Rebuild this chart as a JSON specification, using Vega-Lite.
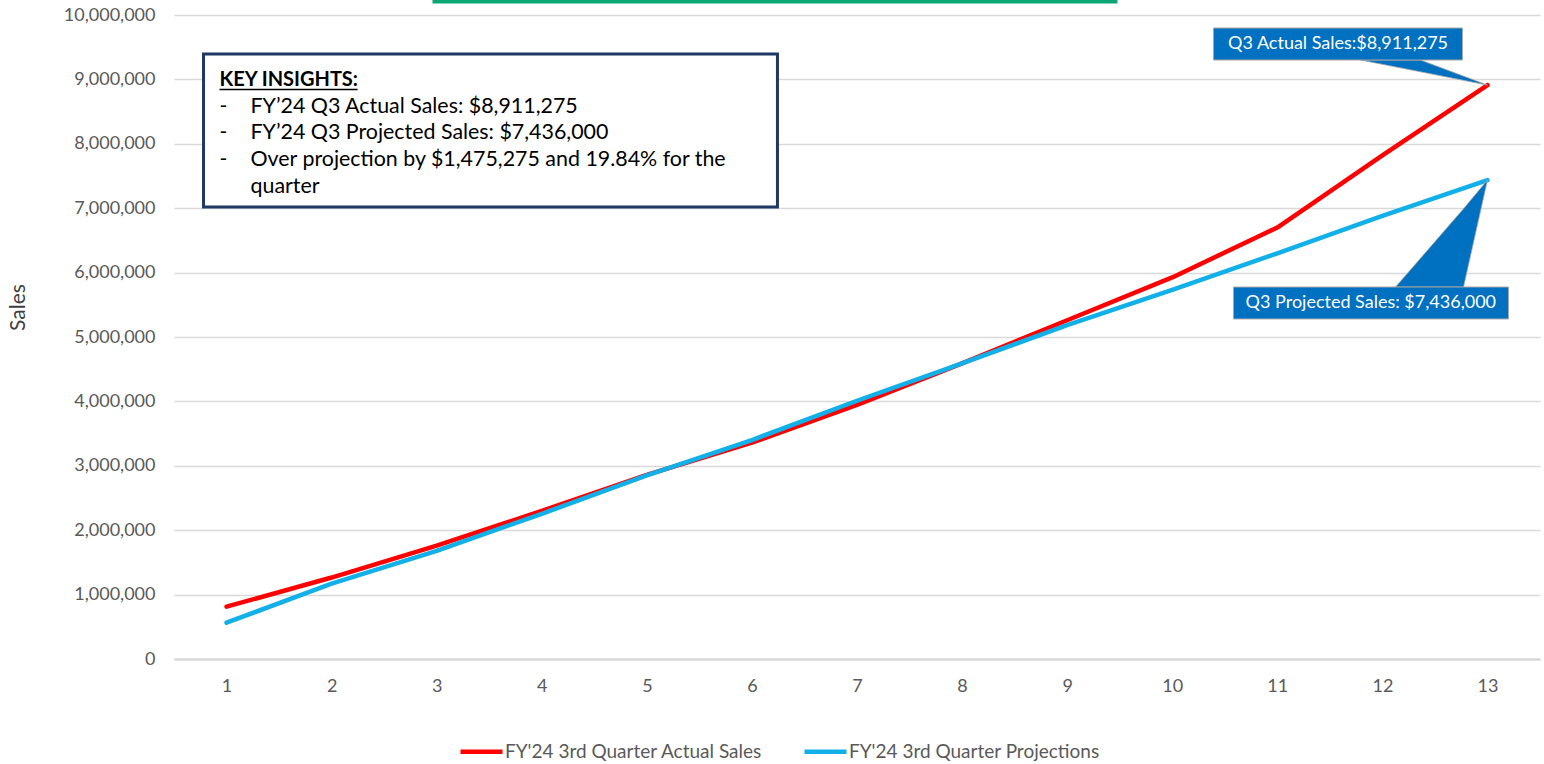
{
  "$schema": "https://vega.github.io/schema/vega-lite/v6.json",
  "autosize": "none",
  "width": 1366,
  "height": 644,
  "padding": {"left": 174, "top": 15, "right": 4, "bottom": 105},
  "background": "white",
  "config": {"font": "Lato", "view": {"stroke": null}},
  "datasets": {
    "sales": [
      {"x": 1, "y": 812000, "series": "FY'24 3rd Quarter Actual Sales"},
      {"x": 2, "y": 1265000, "series": "FY'24 3rd Quarter Actual Sales"},
      {"x": 3, "y": 1760000, "series": "FY'24 3rd Quarter Actual Sales"},
      {"x": 4, "y": 2300000, "series": "FY'24 3rd Quarter Actual Sales"},
      {"x": 5, "y": 2860000, "series": "FY'24 3rd Quarter Actual Sales"},
      {"x": 6, "y": 3360000, "series": "FY'24 3rd Quarter Actual Sales"},
      {"x": 7, "y": 3945000, "series": "FY'24 3rd Quarter Actual Sales"},
      {"x": 8, "y": 4590000, "series": "FY'24 3rd Quarter Actual Sales"},
      {"x": 9, "y": 5260000, "series": "FY'24 3rd Quarter Actual Sales"},
      {"x": 10, "y": 5925000, "series": "FY'24 3rd Quarter Actual Sales"},
      {"x": 11, "y": 6700000, "series": "FY'24 3rd Quarter Actual Sales"},
      {"x": 12, "y": 7820000, "series": "FY'24 3rd Quarter Actual Sales"},
      {"x": 13, "y": 8911275, "series": "FY'24 3rd Quarter Actual Sales"},
      {"x": 1, "y": 564000, "series": "FY'24 3rd Quarter Projections"},
      {"x": 2, "y": 1170000, "series": "FY'24 3rd Quarter Projections"},
      {"x": 3, "y": 1680000, "series": "FY'24 3rd Quarter Projections"},
      {"x": 4, "y": 2255000, "series": "FY'24 3rd Quarter Projections"},
      {"x": 5, "y": 2850000, "series": "FY'24 3rd Quarter Projections"},
      {"x": 6, "y": 3400000, "series": "FY'24 3rd Quarter Projections"},
      {"x": 7, "y": 4010000, "series": "FY'24 3rd Quarter Projections"},
      {"x": 8, "y": 4590000, "series": "FY'24 3rd Quarter Projections"},
      {"x": 9, "y": 5185000, "series": "FY'24 3rd Quarter Projections"},
      {"x": 10, "y": 5730000, "series": "FY'24 3rd Quarter Projections"},
      {"x": 11, "y": 6300000, "series": "FY'24 3rd Quarter Projections"},
      {"x": 12, "y": 6880000, "series": "FY'24 3rd Quarter Projections"},
      {"x": 13, "y": 7436000, "series": "FY'24 3rd Quarter Projections"}
    ],
    "greenbar": [{"x": 2.96, "x2": 9.479, "y": 10207000}],
    "wedges": [
      {"id": "a", "x": 11.791, "y": 9301000, "y2": 9301000},
      {"id": "a", "x": 12.362, "y": 9301000, "y2": 9118000},
      {"id": "a", "x": 13.0, "y": 8911275, "y2": 8911275},
      {"id": "p", "x": 12.125, "y": 5776000, "y2": 5776000},
      {"id": "p", "x": 12.772, "y": 6991000, "y2": 5776000},
      {"id": "p", "x": 13.0, "y": 7436000, "y2": 7436000}
    ],
    "calloutBoxes": [
      {"x": 10.393, "x2": 12.762, "y": 9798000, "y2": 9301000},
      {"x": 10.583, "x2": 13.2, "y": 5776000, "y2": 5280000}
    ],
    "calloutText": [
      {"x": 11.578, "y": 9550000, "text": "Q3 Actual Sales:$8,911,275"},
      {"x": 11.89, "y": 5528000, "text": "Q3 Projected Sales: $7,436,000"}
    ],
    "insightBox": [{"x": 0.781, "x2": 6.243, "y": 9394000, "y2": 7019000}],
    "heading": [{"x": 0.933, "y": 8898000, "text": "KEY INSIGHTS:"}],
    "underline": [{"x": 0.933, "x2": 2.247, "y": 8843000}],
    "dashes": [
      {"x": 0.933, "y": 8478000, "text": "-"},
      {"x": 0.933, "y": 8075000, "text": "-"},
      {"x": 0.933, "y": 7655000, "text": "-"}
    ],
    "lines": [
      {"x": 1.228, "y": 8478000, "text": "FY’24 Q3 Actual Sales: $8,911,275"},
      {"x": 1.228, "y": 8075000, "text": "FY’24 Q3 Projected Sales: $7,436,000"},
      {"x": 1.228, "y": 7655000, "text": "Over projection by $1,475,275 and 19.84% for the"},
      {"x": 1.228, "y": 7236000, "text": "quarter"}
    ]
  },
  "encoding": {
    "x": {
      "field": "x", "type": "quantitative",
      "scale": {"domain": [0.5, 13.5], "nice": false, "zero": false},
      "axis": {
        "values": [1, 2, 3, 4, 5, 6, 7, 8, 9, 10, 11, 12, 13],
        "format": "d", "grid": false, "ticks": false,
        "domainColor": "#d9d9d9", "domainWidth": 2.5,
        "labelPadding": 18, "labelFontSize": 18, "labelColor": "#595959",
        "title": null
      }
    },
    "y": {
      "field": "y", "type": "quantitative",
      "scale": {"domain": [0, 10000000], "nice": false},
      "axis": {
        "values": [0, 1000000, 2000000, 3000000, 4000000, 5000000, 6000000, 7000000, 8000000, 9000000, 10000000],
        "format": ",d", "formatType": "number", "grid": true, "gridColor": "#d9d9d9", "gridWidth": 1.5,
        "ticks": false, "domain": false,
        "labelPadding": 19, "labelFontSize": 18, "labelColor": "#595959",
        "title": "Sales", "titleFontSize": 21, "titleFontWeight": "normal", "titleColor": "#404040",
        "titleX": -146, "titleY": 292
      }
    }
  },
  "layer": [
    {
      "data": {"name": "greenbar"},
      "mark": {"type": "rule", "color": "#0AA673", "strokeWidth": 3.5},
      "encoding": {"x2": {"field": "x2"}}
    },
    {
      "data": {"name": "sales"},
      "mark": {"type": "line", "strokeWidth": 4.5, "strokeCap": "round", "strokeJoin": "round"},
      "encoding": {
        "color": {
          "field": "series", "type": "nominal",
          "scale": {"domain": ["FY'24 3rd Quarter Actual Sales", "FY'24 3rd Quarter Projections"], "range": ["#FF0000", "#12B0E8"]},
          "legend": {
            "orient": "none", "legendX": 284, "legendY": 713, "direction": "horizontal",
            "title": null, "symbolType": "stroke", "symbolSize": 1764, "symbolStrokeWidth": 4.5,
            "labelOffset": 0, "columnPadding": 32, "labelFontSize": 19, "labelColor": "#595959", "labelLimit": 500
          }
        }
      }
    },
    {
      "data": {"name": "wedges"},
      "mark": {"type": "area", "color": "#0070C0", "orient": "vertical", "stroke": "#a6a6a6", "strokeWidth": 0.8},
      "encoding": {"y2": {"field": "y2"}, "detail": {"field": "id"}}
    },
    {
      "data": {"name": "calloutBoxes"},
      "mark": {"type": "rect", "fill": "#0070C0", "stroke": "#a6a6a6", "strokeWidth": 1},
      "encoding": {"x2": {"field": "x2"}, "y2": {"field": "y2"}}
    },
    {
      "data": {"name": "calloutText"},
      "mark": {"type": "text", "color": "white", "fontSize": 18, "align": "center", "baseline": "middle"},
      "encoding": {"text": {"field": "text"}}
    },
    {
      "data": {"name": "insightBox"},
      "mark": {"type": "rect", "fill": "white", "stroke": "#1F3864", "strokeWidth": 3},
      "encoding": {"x2": {"field": "x2"}, "y2": {"field": "y2"}}
    },
    {
      "data": {"name": "heading"},
      "mark": {"type": "text", "color": "black", "fontSize": 20, "fontWeight": "bold", "align": "left", "baseline": "alphabetic"},
      "encoding": {"text": {"field": "text"}}
    },
    {
      "data": {"name": "underline"},
      "mark": {"type": "rule", "color": "black", "strokeWidth": 1.5},
      "encoding": {"x2": {"field": "x2"}}
    },
    {
      "data": {"name": "dashes"},
      "mark": {"type": "text", "color": "black", "fontSize": 21, "align": "left", "baseline": "alphabetic"},
      "encoding": {"text": {"field": "text"}}
    },
    {
      "data": {"name": "lines"},
      "mark": {"type": "text", "color": "black", "fontSize": 21.4, "align": "left", "baseline": "alphabetic"},
      "encoding": {"text": {"field": "text"}}
    }
  ]
}
